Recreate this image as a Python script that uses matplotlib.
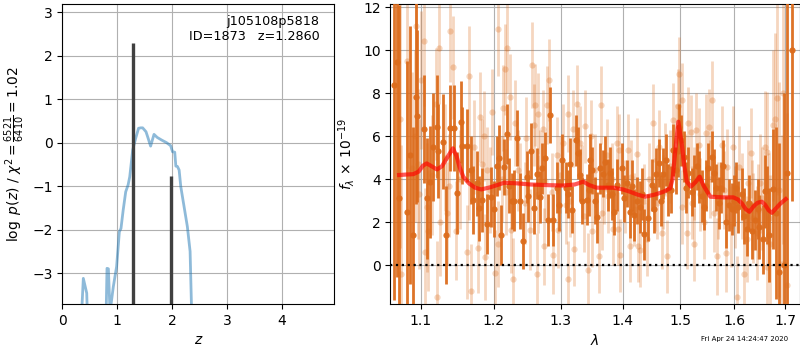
import matplotlib
matplotlib.use('Agg')
import matplotlib.pyplot as plt
from matplotlib.ticker import FixedLocator, FixedFormatter, NullLocator

# ---------------- left panel: log p(z) ----------------
pz_z = [0.33, 0.383, 0.445, 0.47, 0.60, 0.79, 0.815, 0.84, 0.87, 0.93,
        0.99, 1.04, 1.07, 1.11, 1.156, 1.20, 1.23, 1.283, 1.338, 1.39,
        1.43, 1.465, 1.526, 1.565, 1.61, 1.672, 1.73, 1.81, 1.90, 1.975,
        2.01, 2.05, 2.07, 2.10, 2.13, 2.16, 2.22, 2.28, 2.33, 2.37]
pz_logp = [-4.5, -3.12, -3.46, -4.5, -6.0, -4.5, -2.89, -2.90, -3.9, -3.31,
           -2.85, -2.05, -1.97, -1.55, -1.13, -0.97, -0.78, -0.17, 0.10, 0.33,
           0.34, 0.34, 0.25, 0.10, -0.08, 0.19, 0.12, 0.06, 0.0, -0.07,
           -0.21, -0.22, -0.54, -0.55, -0.63, -1.01, -1.47, -1.93, -2.50, -4.5]
peak_z = [1.286, 1.985]
peak_logp = [2.30, -0.76]

# ---------------- right panel: spectrum ----------------
dark_wave = [1.0654, 1.0685, 1.0714, 1.0821, 1.0856, 1.0899, 1.0934, 1.0951, 1.1040, 1.1083,
             1.1119, 1.1163, 1.1209, 1.1231, 1.1297, 1.1334, 1.1388, 1.1447, 1.1488, 1.1539,
             1.1557, 1.1618, 1.1678, 1.1710, 1.1794, 1.1837, 1.1908, 1.1960, 1.2042, 1.2075,
             1.2104, 1.2152, 1.2187, 1.2221, 1.2260, 1.2298, 1.2343, 1.2382, 1.2431, 1.2482,
             1.2547, 1.2596, 1.2632, 1.2682, 1.2717, 1.2809, 1.2840, 1.2886, 1.2938, 1.3016,
             1.3078, 1.3146, 1.3182, 1.3235, 1.3277, 1.3331, 1.3411, 1.3464, 1.3501, 1.3572,
             1.3626, 1.3680, 1.3752, 1.3790, 1.3861, 1.3911, 1.3984, 1.4068, 1.4124, 1.4196,
             1.4237, 1.4294, 1.4367, 1.4436, 1.4495, 1.4565, 1.4622, 1.4698, 1.4775, 1.4834,
             1.4874, 1.4951, 1.4982, 1.5072, 1.5133, 1.5205, 1.5247, 1.5344, 1.5431, 1.5510,
             1.5573, 1.5654, 1.5742, 1.5842, 1.5905, 1.5994, 1.6077, 1.6142, 1.6239, 1.6337,
             1.6401, 1.6486, 1.6598, 1.6684, 1.6764, 1.6818, 1.6885, 1.6980, 1.7047, 1.7149,
             1.1761, 1.2005, 1.2500, 1.2760, 1.2975, 1.3110, 1.3300, 1.3440, 1.3540, 1.3715,
             1.3825, 1.4030, 1.4160, 1.4330, 1.4530, 1.4660, 1.4740, 1.4915, 1.5015, 1.5100,
             1.5295, 1.5390, 1.5470, 1.5610, 1.5700, 1.5790, 1.5950, 1.6040, 1.6190, 1.6290,
             1.6450, 1.6550, 1.6640]
dark_flux = [8.37, 9.46, 3.10, 2.48, 5.10, 1.40, 7.83, 6.93, 6.33, 3.10,
             3.88, 5.50, 6.43, 5.30, 5.74, 1.40, 6.36, 6.36, 3.36, 6.66,
             5.55, 5.55, 4.42, 3.03, 2.64, 3.03, 1.91, 3.18, 4.60, 5.00,
             1.40, 4.55, 6.10, 3.70, 3.00, 3.00, 5.90, 2.97, 1.10, 4.10,
             5.32, 2.64, 4.26, 3.18, 4.50, 2.10, 7.00, 2.10, 3.60, 4.90,
             3.60, 4.70, 2.57, 5.80, 5.20, 2.99, 3.05, 4.90, 4.40, 2.22,
             4.50, 4.26, 3.73, 4.30, 2.48, 3.73, 4.50, 3.80, 2.48, 2.33,
             3.00, 2.70, 1.43, 2.20, 3.73, 4.24, 4.75, 4.26, 3.50, 3.50,
             5.35, 5.30, 6.40, 5.05, 4.30, 3.40, 3.90, 4.10, 2.72, 4.50,
             5.05, 3.60, 3.60, 2.00, 2.80, 3.00, 2.70, 3.30, 1.70, 1.60,
             2.10, 1.77, 3.43, 1.40, 3.53, 2.40, -0.31, 0.00, 4.30, 10.00,
             3.80, 2.60, 3.20, 5.00, 2.80, 3.30, 4.20, 3.50, 3.00, 4.80,
             3.30, 3.10, 3.70, 3.30, 2.60, 3.00, 4.90, 4.40, 5.80, 3.60,
             4.60, 3.20, 3.70, 4.30, 2.90, 4.60, 2.60, 3.60, 2.30, 2.90,
             2.60, 1.20, 2.80]
dark_err = [10.0, 10.0, 9.0, 7.0, 6.0, 5.0, 5.0, 4.0, 2.5, 2.8,
            2.6, 2.5, 2.4, 2.2, 2.2, 2.3, 2.0, 2.0, 1.9, 1.9,
            1.8, 1.7, 1.6, 1.6, 1.5, 1.5, 1.4, 1.4, 1.4, 1.5,
            1.4, 1.3, 1.4, 1.3, 1.3, 1.4, 1.3, 1.3, 1.3, 1.2,
            1.3, 1.2, 1.2, 1.2, 1.2, 1.2, 1.3, 1.2, 1.2, 1.2,
            1.2, 1.2, 1.1, 1.2, 1.2, 1.1, 1.2, 1.2, 1.1, 1.2,
            1.2, 1.1, 1.2, 1.2, 1.1, 1.2, 1.2, 1.1, 1.2, 1.2,
            1.1, 1.2, 1.2, 1.1, 1.2, 1.2, 1.1, 1.2, 1.2, 1.1,
            1.2, 1.2, 1.1, 1.2, 1.2, 1.1, 1.2, 1.2, 1.1, 1.2,
            1.2, 1.1, 1.2, 1.2, 1.2, 1.2, 1.2, 1.2, 1.3, 1.3,
            1.4, 1.5, 1.7, 2.2, 2.8, 4.0, 6.0, 8.0, 9.0, 7.0,
            1.5, 1.3, 1.2, 1.2, 1.2, 1.1, 1.2, 1.2, 1.1, 1.2,
            1.2, 1.1, 1.2, 1.2, 1.1, 1.2, 1.2, 1.1, 1.2, 1.2,
            1.1, 1.2, 1.2, 1.1, 1.2, 1.2, 1.2, 1.2, 1.3, 1.3,
            1.4, 1.6, 1.8]

light_wave = [1.0729, 1.0742, 1.0816, 1.0884, 1.0923, 1.0932, 1.0965, 1.0974, 1.1000, 1.1041,
              1.1050, 1.1077, 1.1099, 1.1145, 1.1203, 1.1212, 1.1234, 1.1250, 1.1324, 1.1347,
              1.1369, 1.1382, 1.1436, 1.1469, 1.1528, 1.1626, 1.1644, 1.1654, 1.1682, 1.1714,
              1.1775, 1.1807, 1.1839, 1.1867, 1.1877, 1.1901, 1.1947, 1.1979, 1.2018, 1.2057,
              1.2066, 1.2120, 1.2139, 1.2164, 1.2179, 1.2198, 1.2237, 1.2252, 1.2286, 1.2311,
              1.2359, 1.2384, 1.2457, 1.2472, 1.2532, 1.2566, 1.2597, 1.2607, 1.2633, 1.2648,
              1.2657, 1.2683, 1.2733, 1.2748, 1.2758, 1.2784, 1.2823, 1.2864, 1.2884, 1.2935,
              1.2959, 1.2985, 1.3037, 1.3075, 1.3107, 1.3117, 1.3144, 1.3196, 1.3212, 1.3251,
              1.3304, 1.3335, 1.3367, 1.3383, 1.3426, 1.3479, 1.3490, 1.3544, 1.3610, 1.3643,
              1.3655, 1.3692, 1.3737, 1.3763, 1.3824, 1.3845, 1.3901, 1.3928, 1.3939, 1.3956,
              1.4039, 1.4096, 1.4125, 1.4142, 1.4193, 1.4239, 1.4266, 1.4295, 1.4363, 1.4409,
              1.4449, 1.4523, 1.4553, 1.4588, 1.4623, 1.4671, 1.4694, 1.4729, 1.4759, 1.4817,
              1.4875, 1.4923, 1.4963, 1.4981, 1.5024, 1.5035, 1.5085, 1.5116, 1.5146, 1.5196,
              1.5208, 1.5238, 1.5251, 1.5288, 1.5330, 1.5362, 1.5423, 1.5472, 1.5515, 1.5547,
              1.5578, 1.5608, 1.5672, 1.5696, 1.5765, 1.5808, 1.5845, 1.5858, 1.5933, 1.5981,
              1.6014, 1.6047, 1.6097, 1.6150, 1.6188, 1.6247, 1.6272, 1.6319, 1.6344, 1.6369,
              1.6436, 1.6461, 1.6500, 1.6540, 1.6600, 1.6634, 1.6646, 1.6680, 1.6700, 1.6754,
              1.6800, 1.6846, 1.6880, 1.6934, 1.6966, 1.7047]
light_flux = [6.80, -0.40, 9.50, 4.50, 6.00, 11.10, 4.70, 3.30, 8.60, 10.40,
              0.60, 2.70, 1.60, 4.20, 7.50, -1.50, 10.10, 2.00, 5.00, 2.40,
              3.70, 10.90, 9.20, 1.60, 4.00, 0.60, 8.80, 4.30, -1.20, 5.50,
              0.80, 6.90, 4.70, 6.00, 0.36, 4.40, 3.50, 7.10, -0.35, 11.00,
              1.00, 4.00, 7.30, 9.10, 3.40, 10.10, 7.80, 1.65, -0.66, 6.60,
              4.40, 3.80, 2.88, 5.90, 1.65, 9.30, 6.50, 7.45, -0.41, 7.05,
              3.30, 4.50, 6.35, 0.87, 3.90, 7.45, 8.60, 3.40, 0.46, 5.10,
              1.65, 4.20, 5.70, 2.80, 7.05, -0.66, 3.00, 6.35, 0.75, 7.50,
              5.70, 3.90, 2.30, 6.45, -0.21, 6.00, 1.60, 4.40, 0.42, 7.45,
              2.40, 3.60, 5.10, 3.20, 4.00, 1.70, 5.70, 1.70, 5.35, 0.46,
              3.20, 5.35, 0.90, 4.10, 2.60, 5.16, 0.90, 0.70, 3.00, 1.20,
              4.00, 6.60, 3.30, 2.90, 5.50, 1.50, 3.40, 4.90, 0.40, 4.60,
              6.75, 5.80, 7.40, 8.90, 7.70, 2.70, 4.40, 1.50, 6.60, 6.20,
              2.90, 0.97, 3.80, 6.30, 5.60, 3.30, 2.00, 6.15, 6.40, 4.00,
              7.70, 2.40, 0.40, 3.00, 5.60, 3.50, 0.56, 4.55, 1.80, 5.50,
              2.70, -1.50, 4.55, 3.20, -0.41, 1.20, 3.80, 5.20, 2.80, 2.20,
              1.50, 2.50, 3.80, 3.10, 5.50, -0.07, 5.27, 2.20, 0.97, 6.50,
              6.80, 7.75, 3.50, 0.07, 8.00, -0.93]
light_err = [6.0, 6.0, 5.0, 4.5, 4.0, 4.0, 3.5, 3.5, 3.2, 3.0,
             3.0, 3.0, 2.8, 2.8, 2.6, 2.6, 2.6, 2.5, 2.5, 2.4,
             2.4, 2.4, 2.4, 2.3, 2.3, 2.2, 2.3, 2.2, 2.2, 2.2,
             2.1, 2.1, 2.1, 2.1, 2.0, 2.0, 2.0, 2.0, 2.0, 2.2,
             2.0, 2.0, 2.0, 2.1, 2.0, 2.1, 2.0, 2.0, 1.9, 2.0,
             1.9, 1.9, 1.9, 1.9, 1.9, 2.0, 1.9, 1.9, 1.9, 1.9,
             1.8, 1.8, 1.8, 1.8, 1.8, 1.8, 1.9, 1.8, 1.8, 1.8,
             1.8, 1.8, 1.8, 1.8, 1.8, 1.8, 1.7, 1.8, 1.7, 1.8,
             1.7, 1.7, 1.7, 1.7, 1.7, 1.7, 1.7, 1.7, 1.7, 1.8,
             1.7, 1.7, 1.7, 1.7, 1.7, 1.7, 1.7, 1.7, 1.7, 1.7,
             1.7, 1.7, 1.7, 1.7, 1.7, 1.7, 1.7, 1.7, 1.7, 1.7,
             1.7, 1.8, 1.7, 1.7, 1.7, 1.7, 1.7, 1.7, 1.7, 1.7,
             1.7, 1.7, 1.7, 1.7, 1.7, 1.7, 1.7, 1.7, 1.7, 1.7,
             1.7, 1.7, 1.7, 1.7, 1.7, 1.7, 1.7, 1.8, 1.8, 1.8,
             1.8, 1.8, 1.8, 1.8, 1.8, 1.8, 1.8, 1.8, 1.9, 1.9,
             1.9, 1.9, 1.9, 2.0, 2.0, 2.0, 2.0, 2.1, 2.1, 2.1,
             2.2, 2.2, 2.3, 2.4, 2.6, 2.8, 2.8, 3.0, 3.2, 3.5,
             4.0, 4.5, 5.0, 6.0, 7.0, 8.0]

model_wave = [1.0716, 1.080, 1.090, 1.097, 1.1025, 1.1075, 1.113, 1.1212, 1.128, 1.135,
              1.1428, 1.1475, 1.152, 1.1572, 1.165, 1.1735, 1.1823, 1.195, 1.2152, 1.235,
              1.2532, 1.28, 1.3037, 1.322, 1.3357, 1.345, 1.3572, 1.3845, 1.40, 1.4125,
              1.425, 1.438, 1.455, 1.4698, 1.4816, 1.486, 1.4904, 1.4963, 1.5024, 1.507,
              1.5116, 1.519, 1.527, 1.5349, 1.542, 1.5547, 1.5795, 1.5981, 1.607, 1.6143,
              1.622, 1.6291, 1.636, 1.645, 1.6534, 1.66, 1.667, 1.6734, 1.68, 1.69, 1.7014]
model_flux = [4.19, 4.21, 4.23, 4.35, 4.62, 4.73, 4.62, 4.45, 4.60, 5.00,
              5.43, 5.10, 4.55, 4.10, 3.80, 3.60, 3.52, 3.62, 3.83, 3.80,
              3.75, 3.72, 3.70, 3.75, 3.88, 3.72, 3.60, 3.60, 3.52, 3.41,
              3.28, 3.18, 3.28, 3.41, 3.57, 4.00, 5.20, 6.67, 5.66, 4.60,
              3.88, 3.65, 3.85, 4.11, 3.70, 3.18, 3.15, 3.15, 3.05, 2.87,
              2.60, 2.48, 2.70, 2.90, 2.95, 2.80, 2.55, 2.43, 2.60, 2.85, 3.07]

wave_ticks = [1.1, 1.2, 1.3, 1.4, 1.5, 1.6, 1.7]
wave_ticklabels = ['1.1', '1.2', '1.3', '1.4', '1.5', '1.6', '1.7']

orange = '#DC6C1C'

fig = plt.figure(figsize=(8, 3.5), dpi=100)

# ---- left axes ----
ax1 = fig.add_axes([0.0779, 0.1314, 0.340, 0.8563])
ax1.plot(pz_z, pz_logp, color='tab:blue', alpha=0.5, lw=2)
ax1.vlines(peak_z, -10, peak_logp, color='0.25', lw=2.4)
ax1.set_xlim(0, 4.96)
ax1.set_ylim(-3.71, 3.18)
ax1.set_xticks([0, 1, 2, 3, 4])
ax1.set_yticks([-3, -2, -1, 0, 1, 2, 3])
ax1.grid(True, color='#b0b0b0', lw=0.8)
ax1.set_axisbelow(True)
ax1.set_xlabel('$z$')
ax1.set_ylabel(r'$\log\ p(z)$ / $\chi^2=\frac{6521}{6410}=1.02$')
ax1.text(0.945, 0.965, 'j105108p5818\nID=1873   z=1.2860', transform=ax1.transAxes,
         ha='right', va='top', fontsize=9.2)

# ---- right axes ----
ax2 = fig.add_axes([0.4879, 0.1314, 0.5115, 0.8563])
ax2.errorbar(light_wave, light_flux, yerr=light_err, fmt='o', color=orange,
             alpha=0.28, ms=4.5, mec='none', elinewidth=2, zorder=2)
ax2.errorbar(dark_wave, dark_flux, yerr=dark_err, fmt='o', color=orange,
             alpha=0.95, ms=4.5, mec='none', elinewidth=2.0, zorder=3)
ax2.plot(model_wave, model_flux, color='red', lw=3, alpha=0.65, zorder=4)
ax2.axhline(0, color='k', ls=':', lw=1.6, zorder=5)
ax2.set_xscale('log')
ax2.set_xlim(1.0604, 1.7296)
ax2.set_ylim(-1.81, 12.13)
ax2.xaxis.set_major_locator(FixedLocator(wave_ticks))
ax2.xaxis.set_major_formatter(FixedFormatter(wave_ticklabels))
ax2.xaxis.set_minor_locator(NullLocator())
ax2.set_yticks([0, 2, 4, 6, 8, 10, 12])
ax2.grid(True, color='#b0b0b0', lw=0.8, zorder=1)
ax2.set_xlabel(r'$\lambda$')
ax2.set_ylabel(r'$f_\lambda\,\times\,10^{-19}$')

fig.text(0.985, 0.03, 'Fri Apr 24 14:24:47 2020', ha='right', va='center', fontsize=5)

fig.savefig('out.png', dpi=100)
